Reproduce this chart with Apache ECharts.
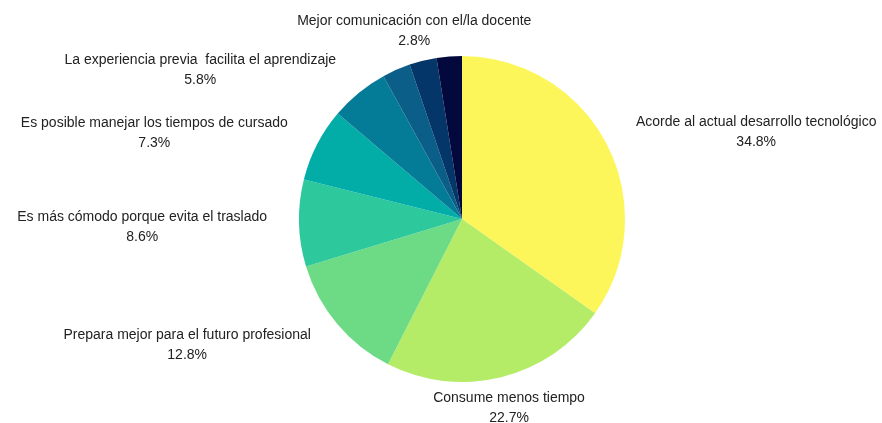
<!DOCTYPE html>
<html>
<head>
<meta charset="utf-8">
<script src="https://cdn.jsdelivr.net/npm/echarts@6/dist/echarts.min.js"></script>
<style>
  html, body { margin: 0; padding: 0; background: #ffffff; }
  #chart { width: 882px; height: 423px; }
</style>
</head>
<body>
<div id="chart"></div>
<script>
// Motivos de preferencia (porcentaje de respuestas)
const categories = [
  'Acorde al actual desarrollo tecnológico',
  'Consume menos tiempo',
  'Prepara mejor para el futuro profesional',
  'Es más cómodo porque evita el traslado',
  'Es posible manejar los tiempos de cursado',
  'La experiencia previa  facilita el aprendizaje',
  'Mejor comunicación con el/la docente',
  'Otro motivo (1)',
  'Otro motivo (2)'
];
const values = [34.8, 22.7, 12.8, 8.6, 7.3, 5.8, 2.8, 2.7, 2.5];
const showLabel = [true, true, true, true, true, true, true, false, false];
const colors = ['#FCF65B', '#B4EC68', '#6DDB85', '#2DC89C', '#02ADA8',
                '#057C97', '#0B5E87', '#05366A', '#03093D'];

const CX = 462, CY = 219, R = 163;
const total = values.reduce((a, b) => a + b, 0);

// mid angle of each slice, clockwise from 12 o'clock (radians)
const midAngles = [];
let acc = 0;
values.forEach(v => { midAngles.push(((acc + v / 2) / total) * 2 * Math.PI); acc += v; });

const chart = echarts.init(document.getElementById('chart'), null, { renderer: 'canvas' });

chart.setOption({
  animation: false,
  backgroundColor: '#ffffff',
  series: [{
    type: 'pie',
    center: [CX, CY],
    radius: [0, R],
    startAngle: 90,
    clockwise: true,
    avoidLabelOverlap: false,
    itemStyle: { borderWidth: 0 },
    label: {
      show: true,
      position: 'outside',
      formatter: '{b}\n{d}%',
      fontFamily: 'Liberation Sans, Arial, sans-serif',
      fontSize: 14,
      lineHeight: 20,
      color: '#222222'
    },
    labelLine: { show: false },
    labelLayout: function (p) {
      const i = p.dataIndex;
      const a = midAngles[i];
      const sx = Math.sin(a), sy = -Math.cos(a);
      const w = p.labelRect.width, h = p.labelRect.height;
      const L = 25, gap = 7;
      const ax = CX + (R + L) * sx, ay = CY + (R + L) * sy;
      let x, y;
      if (Math.abs(sx) > 0.5) {
        x = ax + Math.sign(sx) * (gap + w / 2);
        y = ay;
      } else {
        x = ax;
        y = ay + Math.sign(sy) * (h / 4);
      }
      // nudges keeping neighbouring labels apart and inside the canvas
      if (i === 1) { x += 2; y -= 3; }
      if (i === 2) { y += 5; }
      if (i === 3) { y += 3; }
      if (i === 5) { y -= 3; }
      if (i === 6) { x += 28; y -= 6; }
      return { x: x, y: y, align: 'center', verticalAlign: 'middle' };
    },
    data: categories.map((name, i) => ({
      name: name,
      value: values[i],
      itemStyle: { color: colors[i] },
      label: { show: showLabel[i] }
    }))
  }]
});
</script>
</body>
</html>
